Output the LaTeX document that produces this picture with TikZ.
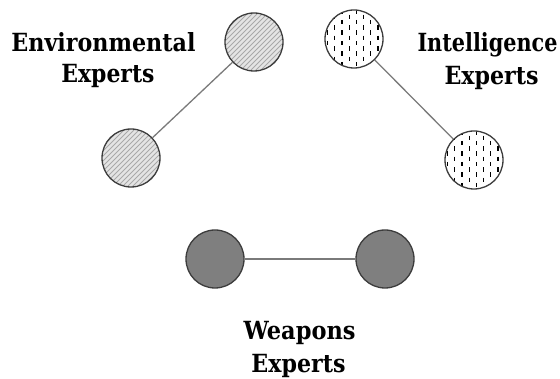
\documentclass[tikz,border=0pt]{standalone}
\usepackage{graphicx}
\usepackage{fontspec}
\newfontfamily\labelfont{DejaVu Serif}
\newcommand{\grptext}[2]{\resizebox{#1pt}{\height}{#2}}
\definecolor{rimgray}{HTML}{3C3C3C}
\definecolor{envbg}{HTML}{E4E4E4}
\definecolor{envline}{HTML}{A8A8A8}
\definecolor{weapfill}{HTML}{7F7F7F}
\definecolor{linkgray}{HTML}{7A7A7A}
\begin{document}
\begin{tikzpicture}[x=1pt,y=-1pt,
  expert/.style={circle, minimum size=58pt, inner sep=0pt, draw=rimgray, line width=1.3pt},
  envnode/.style={expert, fill=envbg,
    path picture={\begin{scope}[shift={(path picture bounding box.center)}]
      \foreach \i in {-80,-75,...,80}{\draw[envline, line width=0.9pt] (\i-40,40) -- (\i+40,-40);}
    \end{scope}}},
  intnode/.style={expert, fill=white,
    path picture={\begin{scope}[shift={(path picture bounding box.center)}]
      \foreach \xx/\ph in {-26.5/0,-19.3/5.25,-12.1/0,-4.9/5.25,2.3/0,9.5/5.25,16.7/0,23.9/5.25,31.1/0}{
        \draw[black, line width=1.2pt, dash pattern=on 4.5pt off 6pt, dash phase=\ph pt] (\xx,-40) -- (\xx,40);}
    \end{scope}}},
  weapnode/.style={expert, fill=weapfill},
  link/.style={draw=linkgray, line width=1.3pt},
  grouplabel/.style={font=\labelfont\bfseries\fontsize{25}{25}\selectfont, inner sep=0pt, anchor=base}
]
\useasboundingbox (0,0) rectangle (560,379);
\node[envnode] (env1) at (254,42) {};
\node[envnode] (env2) at (131,158) {};
\node[intnode] (int1) at (354,39) {};
\node[intnode] (int2) at (474,160) {};
\node[weapnode] (wea1) at (215,259) {};
\node[weapnode] (wea2) at (385,259) {};
\draw[link] (env1) -- (env2);
\draw[link] (int1) -- (int2);
\draw[link] (wea1) -- (wea2);
\node[grouplabel] (envt1) at (103.5,52) {\grptext{184}{Environmental}};
\node[grouplabel] (envt2) at (108,83) {\grptext{93}{Experts}};
\node[grouplabel] (intt1) at (487.5,52) {\grptext{140}{Intelligence}};
\node[grouplabel] (intt2) at (491.5,85) {\grptext{94}{Experts}};
\node[grouplabel] (weat1) at (299.5,340) {\grptext{112}{Weapons}};
\node[grouplabel] (weat2) at (298.5,373) {\grptext{94}{Experts}};
\end{tikzpicture}
\end{document}
